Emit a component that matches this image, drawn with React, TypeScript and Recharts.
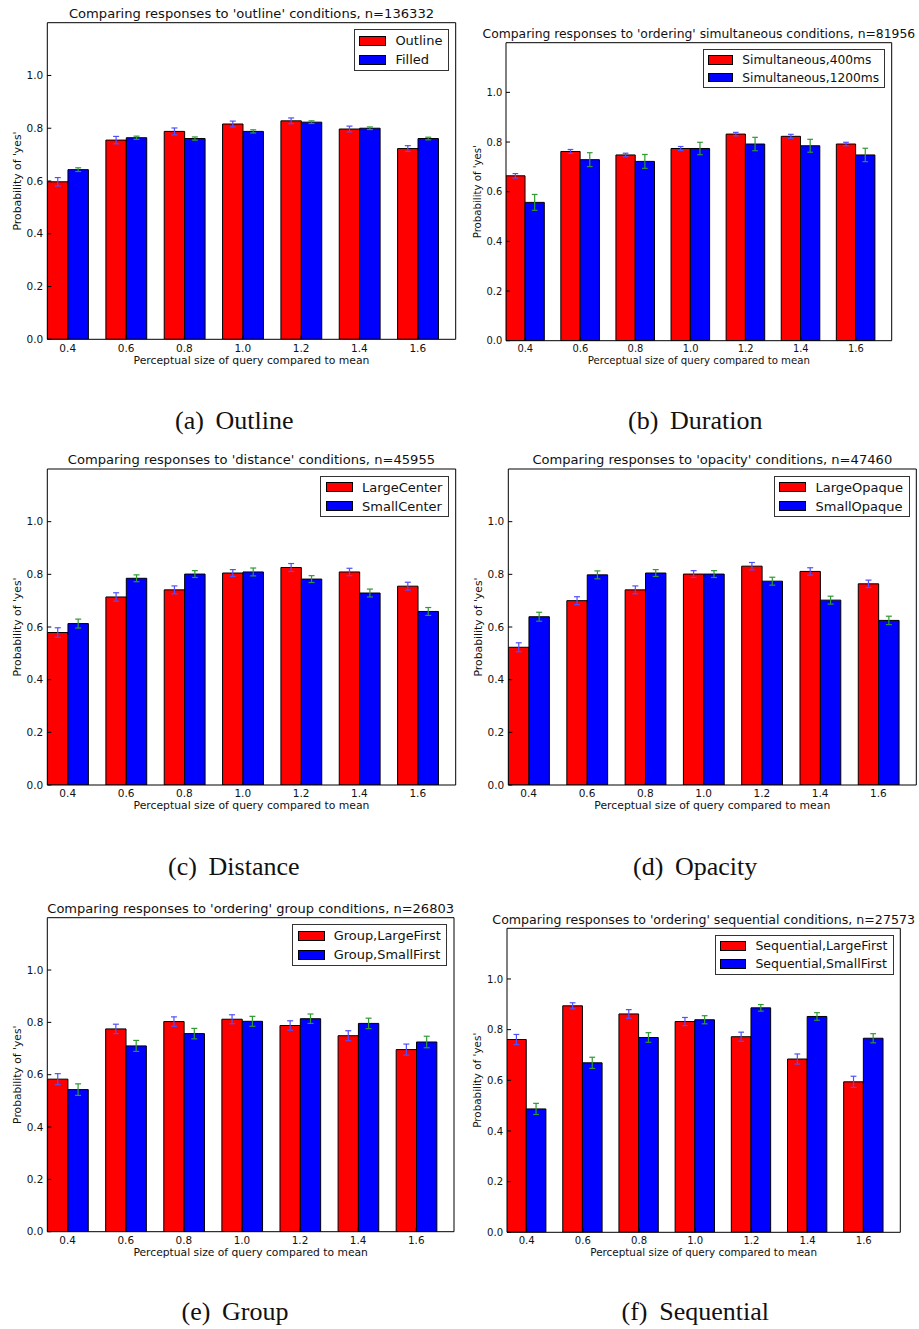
import React from 'react';
import { BarChart, Bar, XAxis, YAxis, ErrorBar, Legend, Label } from 'recharts';

const FONT = '"DejaVu Sans", Verdana, sans-serif';
const SERIF = '"Liberation Serif", "Times New Roman", serif';

// Categories (perceptual size of query compared to mean)
const sizes = [0.4, 0.6, 0.8, 1.0, 1.2, 1.4, 1.6];
const yTicks = [0, 0.2, 0.4, 0.6, 0.8, 1.0];

// (a) Outline
const outlineOutline = [0.597, 0.755, 0.788, 0.816, 0.828, 0.797, 0.723];
const outlineOutlineErr = [0.016, 0.014, 0.013, 0.011, 0.011, 0.011, 0.011];
const outlineFilled = [0.643, 0.764, 0.761, 0.788, 0.823, 0.8, 0.761];
const outlineFilledErr = [0.007, 0.006, 0.006, 0.006, 0.005, 0.005, 0.005];

// (b) Duration
const durationShort = [0.664, 0.762, 0.748, 0.774, 0.832, 0.823, 0.792];
const durationShortErr = [0.009, 0.008, 0.007, 0.008, 0.007, 0.008, 0.007];
const durationLong = [0.557, 0.729, 0.722, 0.774, 0.792, 0.785, 0.748];
const durationLongErr = [0.032, 0.028, 0.028, 0.025, 0.027, 0.026, 0.027];

// (c) Distance
const distanceLarge = [0.579, 0.714, 0.741, 0.805, 0.826, 0.809, 0.755];
const distanceLargeErr = [0.018, 0.016, 0.015, 0.013, 0.015, 0.014, 0.015];
const distanceSmall = [0.613, 0.785, 0.801, 0.809, 0.782, 0.729, 0.659];
const distanceSmallErr = [0.017, 0.013, 0.013, 0.015, 0.013, 0.015, 0.015];

// (d) Opacity
const opacityLarge = [0.523, 0.7, 0.741, 0.801, 0.831, 0.811, 0.764];
const opacityLargeErr = [0.017, 0.015, 0.015, 0.013, 0.014, 0.014, 0.014];
const opacitySmall = [0.639, 0.798, 0.805, 0.801, 0.774, 0.702, 0.625];
const opacitySmallErr = [0.017, 0.015, 0.013, 0.013, 0.015, 0.015, 0.016];

// (e) Group
const groupLarge = [0.583, 0.775, 0.803, 0.812, 0.788, 0.749, 0.696];
const groupLargeErr = [0.021, 0.018, 0.018, 0.017, 0.018, 0.019, 0.021];
const groupSmall = [0.543, 0.71, 0.757, 0.804, 0.814, 0.796, 0.725];
const groupSmallErr = [0.022, 0.021, 0.02, 0.019, 0.018, 0.02, 0.022];

// (f) Sequential
const seqLarge = [0.761, 0.894, 0.862, 0.832, 0.772, 0.684, 0.594];
const seqLargeErr = [0.02, 0.012, 0.017, 0.016, 0.018, 0.02, 0.022];
const seqSmall = [0.487, 0.669, 0.769, 0.839, 0.886, 0.852, 0.766];
const seqSmallErr = [0.022, 0.022, 0.019, 0.016, 0.013, 0.015, 0.018];

type PanelCfg = {
  key: string;
  ox: number; oy: number; W: number;
  L: number; R: number; T: number; B: number; s: number;
  title: string;
  names: [string, string];
  red: number[]; redErr: number[]; blue: number[]; blueErr: number[];
  capLabel: string; capText: string; capX: number; capY: number;
};

const panels: PanelCfg[] = [
  { key: 'a', ox: 0, oy: 0, W: 460, L: 47.3, R: 455.7, T: 22.7, B: 339.3, s: 1,
    title: "Comparing responses to 'outline' conditions, n=136332",
    names: ['Outline', 'Filled'],
    red: outlineOutline, redErr: outlineOutlineErr, blue: outlineFilled, blueErr: outlineFilledErr,
    capLabel: '(a)', capText: 'Outline', capX: 175, capY: 429.3 },
  { key: 'b', ox: 460, oy: 0, W: 459, L: 506, R: 891.7, T: 42.7, B: 340.7, s: 0.943,
    title: "Comparing responses to 'ordering' simultaneous conditions, n=81956",
    names: ['Simultaneous,400ms', 'Simultaneous,1200ms'],
    red: durationShort, redErr: durationShortErr, blue: durationLong, blueErr: durationLongErr,
    capLabel: '(b)', capText: 'Duration', capX: 628, capY: 429.3 },
  { key: 'c', ox: 0, oy: 445, W: 460, L: 47.3, R: 455.7, T: 469, B: 785, s: 1,
    title: "Comparing responses to 'distance' conditions, n=45955",
    names: ['LargeCenter', 'SmallCenter'],
    red: distanceLarge, redErr: distanceLargeErr, blue: distanceSmall, blueErr: distanceSmallErr,
    capLabel: '(c)', capText: 'Distance', capX: 168, capY: 875.3 },
  { key: 'd', ox: 460, oy: 445, W: 459, L: 508.3, R: 916.3, T: 469, B: 785, s: 1,
    title: "Comparing responses to 'opacity' conditions, n=47460",
    names: ['LargeOpaque', 'SmallOpaque'],
    red: opacityLarge, redErr: opacityLargeErr, blue: opacitySmall, blueErr: opacitySmallErr,
    capLabel: '(d)', capText: 'Opacity', capX: 633, capY: 875.3 },
  { key: 'e', ox: 0, oy: 890, W: 460, L: 47.3, R: 454, T: 917.7, B: 1231.7, s: 0.995,
    title: "Comparing responses to 'ordering' group conditions, n=26803",
    names: ['Group,LargeFirst', 'Group,SmallFirst'],
    red: groupLarge, redErr: groupLargeErr, blue: groupSmall, blueErr: groupSmallErr,
    capLabel: '(e)', capText: 'Group', capX: 181.5, capY: 1319.5 },
  { key: 'f', ox: 460, oy: 890, W: 459, L: 507, R: 900.3, T: 928.3, B: 1232.3, s: 0.962,
    title: "Comparing responses to 'ordering' sequential conditions, n=27573",
    names: ['Sequential,LargeFirst', 'Sequential,SmallFirst'],
    red: seqLarge, redErr: seqLargeErr, blue: seqSmall, blueErr: seqSmallErr,
    capLabel: '(f)', capText: 'Sequential', capX: 621.5, capY: 1319.5 },
];

const RED = '#ff0000';
const BLUE = '#0000ff';
const ERR_BLUE = '#5050ff';
const ERR_GREEN = '#2f9a2f';
const H = 380;

function Panel({ p }: { p: PanelCfg }) {
  const s = p.s;
  const yw = p.L - p.ox;
  const rw = p.ox + p.W - p.R;
  const th = p.T - p.oy;
  const bh = p.oy + H - p.B;
  const barSize = ((p.R - p.L) * 0.07) / 1.4;
  const data = sizes.map((x, i) => ({
    x, red: p.red[i], redErr: p.redErr[i], blue: p.blue[i], blueErr: p.blueErr[i],
  }));
  const fmt = (v: number) => v.toFixed(1);
  const tickStyle = { fontFamily: FONT, fontSize: 10.5 * s, fill: '#111' };
  const colors = [RED, BLUE];

  const renderLegend = () => (
    <div
      style={{
        border: '1px solid #333', background: '#fff',
        padding: `${1 * s}px ${5.6 * s}px ${0.5 * s}px ${4.4 * s}px`,
        fontFamily: FONT, fontSize: 13 * s, color: '#111', whiteSpace: 'nowrap',
      }}
    >
      {p.names.map((n, i) => (
        <div key={n} style={{ display: 'flex', alignItems: 'center', height: 19 * s }}>
          <div style={{ width: 25 * s, height: 8 * s, background: colors[i], border: '1px solid #000', marginRight: 9.3 * s }} />
          <span>{n}</span>
        </div>
      ))}
    </div>
  );

  return (
    <div style={{ position: 'absolute', left: p.ox, top: p.oy, width: p.W, height: H }}>
      <BarChart width={p.W} height={H} data={data} margin={{ top: 0, right: 0, bottom: 0, left: 0 }} barGap={0}>
        <XAxis
          xAxisId="bottom" dataKey="x" type="number" domain={[0.33, 1.73]} ticks={sizes} interval={0}
          height={bh} tickSize={-4} tickMargin={4 + 4.94 * s} tickFormatter={fmt} tick={tickStyle}
          stroke="#000" allowDataOverflow
        >
          <Label value="Perceptual size of query compared to mean" position="insideTop" offset={16.7 * s}
            fontFamily={FONT} fontSize={10.8 * s} fill="#111" />
        </XAxis>
        <XAxis
          xAxisId="top" orientation="top" dataKey="x" type="number" domain={[0.33, 1.73]} ticks={sizes}
          interval={0} height={th} tickSize={-4} tick={false} stroke="#000" allowDataOverflow
        >
          <Label value={p.title} position="insideBottom" offset={4.7 * s}
            fontFamily={FONT} fontSize={13.1 * s} fill="#111" />
        </XAxis>
        <YAxis
          yAxisId="left" type="number" domain={[0, 1.2]} ticks={yTicks} interval={0} width={yw}
          tickSize={-4} tickMargin={4 + 4 * s} tickFormatter={fmt} tick={tickStyle} stroke="#000" allowDataOverflow
        >
          <Label value="Probability of 'yes'" angle={-90} position="center" dx={yw / 2 - 30.6 * s}
            fontFamily={FONT} fontSize={10.8 * s} fill="#111" />
        </YAxis>
        <YAxis
          yAxisId="right" orientation="right" type="number" domain={[0, 1.2]} ticks={yTicks} interval={0}
          width={rw} tickSize={-4} tick={false} stroke="#000" allowDataOverflow
        />
        <Legend
          layout="vertical" align="center" verticalAlign="middle" content={renderLegend}
          wrapperStyle={{ top: th + 6.6 * s, right: rw + 6.7 * s, left: 'auto', bottom: 'auto', width: 'auto', height: 'auto' }}
        />
        <Bar xAxisId="bottom" yAxisId="left" dataKey="red" name={p.names[0]} fill={RED} stroke="#000"
          strokeWidth={1} barSize={barSize} isAnimationActive={false}>
          <ErrorBar dataKey="redErr" direction="y" width={3 * s} stroke={ERR_BLUE} strokeWidth={1.2} isAnimationActive={false} />
        </Bar>
        <Bar xAxisId="bottom" yAxisId="left" dataKey="blue" name={p.names[1]} fill={BLUE} stroke="#000"
          strokeWidth={1} barSize={barSize} isAnimationActive={false}>
          <ErrorBar dataKey="blueErr" direction="y" width={3 * s} stroke={ERR_GREEN} strokeWidth={1.2} isAnimationActive={false} />
        </Bar>
      </BarChart>
    </div>
  );
}

export default function App() {
  return (
    <div style={{ position: 'absolute', left: 0, top: 0, width: 919, height: 1329, background: '#fff' }}>
      <svg width={919} height={1329} style={{ position: 'absolute', left: 0, top: 0 }}>
        {panels.map((p) => (
          <text key={p.key} x={p.capX} y={p.capY} fontFamily={SERIF} fontSize={26} fill="#111">
            <tspan>{p.capLabel}</tspan>
            <tspan dx={11.7}>{p.capText}</tspan>
          </text>
        ))}
      </svg>
      {panels.map((p) => (
        <Panel key={p.key} p={p} />
      ))}
    </div>
  );
}
